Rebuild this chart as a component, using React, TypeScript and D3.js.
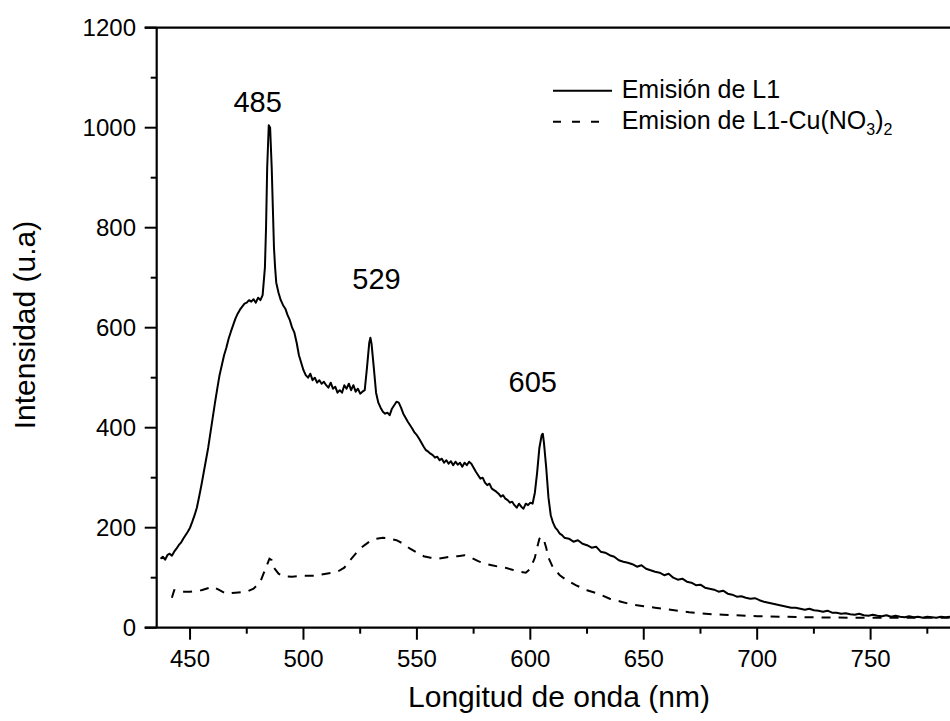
import React from "react";
import * as d3 from "d3";

const solidW = [437,438,439,440,441,442,443,444,445,446,447,448,449,450,451,452,453,454,455,456,457,458,459,460,461,462,463,464,465,466,467,468,469,470,471,472,473,474,475,476,477,478,479,480,481,482,483,483.5,484,484.7,485.3,486,486.5,487,487.5,488,489,490,491,492,493,494,495,496,497,498,499,500,501,502,503,504,505,506,507,508,509,510,511,512,513,514,515,516,517,518,519,520,521,522,523,524,525,526,527,528,529,529.5,530,531,532,533,534,535,536,537,538,539,540,541,542,543,544,545,546,547,548,549,550,551,552,553,554,555,556,557,558,559,560,561,562,563,564,565,566,567,568,569,570,571,572,573,574,575,576,577,578,579,580,581,582,583,584,585,586,587,588,589,590,591,592,593,594,595,596,597,598,599,600,601,602,603,604,605,605.5,606,607,608,609,610,611,612,613,614,615,617,619,621,623,625,627,629,631,633,635,637,639,641,643,645,647,649,651,653,655,657,659,661,663,665,667,669,671,673,675,677,679,681,683,685,687,689,691,693,695,697,699,701,703,705,707,709,711,713,715,717,719,721,723,725,727,729,731,733,735,737,739,741,743,745,747,749,751,753,755,757,759,761,763,765,767,769,771,773,775,777,779,781,783,785];
const solidI = [138,142,136,145,148,144,152,158,165,170,178,185,192,200,212,225,240,262,285,310,335,360,390,420,450,478,505,525,545,560,578,592,605,618,628,636,642,648,650,655,652,657,650,660,655,665,720,800,920,1005,1000,920,840,760,720,690,670,655,645,638,625,615,600,590,570,545,530,515,505,500,508,495,500,490,495,488,492,485,480,490,478,482,470,475,470,485,478,488,475,485,472,478,468,472,475,520,570,580,568,520,470,450,440,432,428,430,425,438,445,452,450,440,428,420,412,405,398,390,385,378,370,362,355,352,348,345,340,342,335,338,330,335,328,333,325,332,326,330,322,330,325,332,328,320,312,305,298,300,290,285,288,278,275,272,268,262,265,258,255,250,252,245,240,248,242,238,248,245,250,248,270,310,360,385,388,370,320,260,225,210,200,195,188,185,180,178,172,175,168,165,160,162,152,150,145,142,135,132,130,127,122,125,118,115,112,110,105,108,100,96,98,92,90,85,86,80,78,76,72,74,68,66,62,63,60,58,59,55,52,50,48,46,44,42,40,40,38,36,38,35,34,32,34,30,30,28,29,27,26,28,25,24,26,24,23,25,22,24,22,21,23,21,22,20,22,21,20,22,21,22];

const dashW = [442,443,445,450,455,460,463,466,470,475,478,481,483,485,486,487,489,491,495,500,505,510,515,518,520,523,526,529,532,535,538,541,544,547,550,553,556,559,562,565,568,571,574,577,580,583,586,589,592,595,598,600,602,603,604,605,606,607,608,610,613,616,620,625,630,635,640,645,650,655,660,665,670,675,680,685,690,695,700,710,720,740,760,785];
const dashI = [60,75,72,72,75,82,75,68,70,72,78,92,115,138,135,120,108,103,102,104,104,108,112,120,132,148,162,172,178,180,178,175,168,158,150,143,140,138,140,142,143,145,140,133,128,125,122,120,116,112,110,118,140,160,178,182,175,160,140,120,105,95,85,75,68,58,52,46,43,40,37,34,31,29,27,26,25,24,23,22,21,20,20,20];

const xTicks = [450, 500, 550, 600, 650, 700, 750];
const xMinor = [475, 525, 575, 625, 675, 725, 775];
const yTicks = [0, 200, 400, 600, 800, 1000, 1200];
const yMinor = [100, 300, 500, 700, 900, 1100];

const peakLabels = ["485", "529", "605"];
const peakPos = [[479.8, 1032], [532.2, 677], [601.1, 472]];

const legendLabels = ["Emisión de L1", "Emision de L1-Cu(NO"];

const FONT = "'Liberation Sans', Arial, sans-serif";

export default function App() {
  const W = 950, H = 721;
  const x = d3.scaleLinear().domain([435.3, 785]).range([156.7, 950]);
  const y = d3.scaleLinear().domain([0, 1200]).range([627.7, 27.7]);
  const solid = solidW.map((w, i) => [w, solidI[i]] as [number, number]);
  const dashed = dashW.map((w, i) => [w, dashI[i]] as [number, number]);
  const line = d3.line<[number, number]>().x(d => x(d[0])).y(d => y(d[1]));
  const x0 = x.range()[0];
  const yB = y(0);
  const yT = y(1200);
  return (
    <svg width={W} height={H} style={{ position: "absolute", left: 0, top: 0, background: "#fff" }} fontFamily={FONT}>
      <defs>
        <clipPath id="plot">
          <rect x={x0} y={yT - 5} width={W - x0} height={yB - yT + 5} />
        </clipPath>
      </defs>
      <rect x={0} y={0} width={W} height={H} fill="#fff" />
      <g clipPath="url(#plot)">
        <path d={line(dashed) || ""} fill="none" stroke="#000" strokeWidth={2} strokeDasharray="9,8" />
        <path d={line(solid) || ""} fill="none" stroke="#000" strokeWidth={2} strokeLinejoin="round" />
      </g>
      {/* frame */}
      <line x1={x0 - 12} x2={W} y1={yT} y2={yT} stroke="#000" strokeWidth={2.2} />
      <line x1={x0 - 12} x2={W} y1={yB} y2={yB} stroke="#000" strokeWidth={2.2} />
      <line x1={x0} x2={x0} y1={yT} y2={yB} stroke="#000" strokeWidth={2.2} />
      {/* x ticks */}
      {xTicks.map(t => (
        <g key={"xt" + t}>
          <line x1={x(t)} x2={x(t)} y1={yB} y2={yB + 12} stroke="#000" strokeWidth={2} />
          <text x={x(t)} y={667} textAnchor="middle" fontSize={24} fill="#000">{t}</text>
        </g>
      ))}
      {xMinor.map(t => (
        <line key={"xm" + t} x1={x(t)} x2={x(t)} y1={yB} y2={yB + 6} stroke="#000" strokeWidth={2} />
      ))}
      {/* y ticks */}
      {yTicks.map(t => (
        <g key={"yt" + t}>
          <line x1={x0 - 12} x2={x0} y1={y(t)} y2={y(t)} stroke="#000" strokeWidth={2} />
          <text x={136} y={y(t) + 8.5} textAnchor="end" fontSize={24} fill="#000">{t}</text>
        </g>
      ))}
      {yMinor.map(t => (
        <line key={"ym" + t} x1={x0 - 6} x2={x0} y1={y(t)} y2={y(t)} stroke="#000" strokeWidth={2} />
      ))}
      {/* axis titles */}
      <text x={559} y={707} textAnchor="middle" fontSize={30} fill="#000">Longitud de onda (nm)</text>
      <text transform="translate(35,325) rotate(-90)" textAnchor="middle" fontSize={30} fill="#000">Intensidad (u.a)</text>
      {/* peak labels */}
      {peakLabels.map((p, i) => (
        <text key={p} x={x(peakPos[i][0])} y={y(peakPos[i][1])} textAnchor="middle" fontSize={29} fill="#000">{p}</text>
      ))}
      {/* legend */}
      <line x1={553} x2={612} y1={90.7} y2={90.7} stroke="#000" strokeWidth={2} />
      <text x={621.7} y={97.5} fontSize={25} fill="#000">{legendLabels[0]}</text>
      <line x1={553} x2={600} y1={121.7} y2={121.7} stroke="#000" strokeWidth={2} strokeDasharray="8,11" />
      <text x={621.7} y={128.5} fontSize={25} fill="#000">
        {legendLabels[1]}
        <tspan fontSize={16} dy={6}>3</tspan>
        <tspan dy={-6}>)</tspan>
        <tspan fontSize={16} dy={6}>2</tspan>
      </text>
    </svg>
  );
}
